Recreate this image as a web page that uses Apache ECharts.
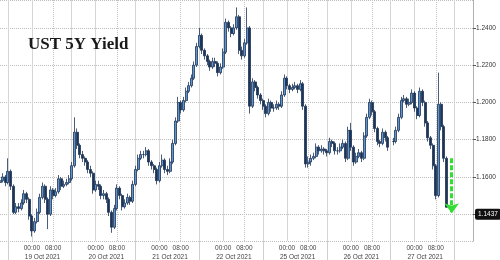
<!DOCTYPE html>
<html><head><meta charset="utf-8">
<script src="https://cdn.jsdelivr.net/npm/echarts@6/dist/echarts.min.js"></script>
<style>html,body{margin:0;padding:0;background:#fff}#c{width:500px;height:260px}</style>
</head><body><div id="c"></div>
<script>
// Trading days shown on the x axis (weekend skipped)
const days = ['18 Oct 2021','19 Oct 2021','20 Oct 2021','21 Oct 2021','22 Oct 2021','25 Oct 2021','26 Oct 2021','27 Oct 2021'];
const firstHour = 12;   // chart starts 18 Oct 12:00
const lastHour = 22;    // chart ends 27 Oct 22:00
const hourTicks = [0, 8];      // labelled hours
const dateLabelHour = 4;       // where the date label sits
const sessionBreakHour = 15;   // solid session separators

// Hourly OHLC (open = previous close)
const firstOpen = 1.157;
const closes = [
1.158,1.160,1.157,1.163,1.155,1.141,1.144,1.143,1.146,1.151,
1.148,1.139,1.131,1.136,1.141,1.149,1.155,1.148,1.140,1.153,
1.150,1.152,1.159,1.155,1.156,1.157,1.159,1.166,1.184,1.177,
1.172,1.170,1.168,1.164,1.162,1.153,1.156,1.155,1.150,1.151,
1.148,1.141,1.133,1.143,1.154,1.150,1.144,1.146,1.149,1.147,
1.156,1.164,1.170,1.172,1.172,1.174,1.168,1.166,1.164,1.158,
1.166,1.169,1.164,1.163,1.168,1.178,1.190,1.200,1.196,1.201,
1.206,1.209,1.213,1.220,1.230,1.236,1.228,1.225,1.222,1.219,
1.222,1.221,1.216,1.219,1.227,1.243,1.240,1.237,1.240,1.246,
1.228,1.225,1.232,1.240,1.198,1.211,1.208,1.204,1.201,1.198,
1.194,1.200,1.197,1.197,1.199,1.198,1.204,1.213,1.209,1.207,
1.208,1.209,1.207,1.210,1.198,1.167,1.168,1.170,1.171,1.176,
1.174,1.175,1.174,1.173,1.179,1.178,1.174,1.174,1.176,1.178,
1.170,1.185,1.176,1.168,1.171,1.173,1.170,1.182,1.192,1.200,
1.195,1.186,1.179,1.178,1.184,1.181,1.176,null,1.179,1.185,
1.192,1.201,1.202,1.199,1.200,1.205,1.197,1.193,1.206,1.200,
1.189,1.181,1.177,1.166,1.150,1.199,1.187,1.170,1.1437];
const highs = [
1.160,1.162,1.161,1.170,1.164,1.156,1.146,1.146,1.148,1.153,
1.152,1.149,1.140,1.138,1.143,1.151,1.157,1.156,1.149,1.155,
1.154,1.154,1.161,1.160,1.158,1.159,1.161,1.168,1.192,1.186,
1.178,1.174,1.171,1.169,1.166,1.163,1.158,1.158,1.156,1.153,
1.152,1.149,1.142,1.145,1.156,1.155,1.151,1.148,1.151,1.150,
1.158,1.166,1.172,1.174,1.174,1.176,1.175,1.169,1.167,1.165,
1.168,1.172,1.170,1.166,1.170,1.180,1.192,1.203,1.201,1.203,
1.208,1.211,1.215,1.222,1.232,1.240,1.237,1.229,1.226,1.223,
1.224,1.224,1.222,1.221,1.229,1.245,1.244,1.241,1.242,1.251,
1.247,1.230,1.234,1.251,1.241,1.213,1.212,1.209,1.205,1.202,
1.199,1.202,1.201,1.199,1.201,1.200,1.206,1.215,1.214,1.210,
1.210,1.211,1.210,1.212,1.211,1.199,1.171,1.172,1.173,1.178,
1.177,1.177,1.176,1.175,1.181,1.180,1.179,1.176,1.178,1.180,
1.179,1.187,1.189,1.177,1.173,1.175,1.174,1.184,1.194,1.202,
1.201,1.196,1.187,1.180,1.186,1.185,1.182,null,1.181,1.187,
1.194,1.203,1.204,1.203,1.202,1.207,1.206,1.198,1.208,1.207,
1.201,1.190,1.182,1.178,1.167,1.216,1.200,1.188,1.171];
const lows = [
1.155,1.157,1.155,1.156,1.153,1.140,1.140,1.141,1.142,1.145,
1.146,1.137,1.128,1.130,1.135,1.140,1.148,1.146,1.132,1.139,
1.148,1.149,1.151,1.153,1.154,1.155,1.156,1.158,1.165,1.175,
1.170,1.168,1.166,1.162,1.160,1.151,1.152,1.153,1.148,1.148,
1.146,1.139,1.130,1.132,1.142,1.148,1.142,1.143,1.145,1.145,
1.146,1.155,1.163,1.169,1.170,1.171,1.166,1.164,1.162,1.156,
1.157,1.165,1.162,1.161,1.162,1.167,1.177,1.189,1.194,1.195,
1.200,1.205,1.208,1.212,1.219,1.229,1.226,1.223,1.220,1.217,
1.218,1.219,1.214,1.215,1.218,1.226,1.238,1.235,1.236,1.239,
1.226,1.223,1.224,1.231,1.194,1.197,1.206,1.202,1.199,1.196,
1.192,1.193,1.195,1.195,1.196,1.196,1.197,1.203,1.207,1.205,
1.206,1.207,1.205,1.206,1.196,1.165,1.165,1.166,1.169,1.170,
1.172,1.173,1.172,1.171,1.172,1.176,1.172,1.172,1.173,1.175,
1.168,1.169,1.174,1.166,1.167,1.170,1.168,1.169,1.181,1.191,
1.193,1.184,1.177,1.176,1.177,1.179,1.174,null,1.177,1.178,
1.184,1.191,1.200,1.197,1.198,1.199,1.195,1.191,1.192,1.198,
1.187,1.179,1.175,1.164,1.148,1.149,1.185,1.168,1.1437];

// Green arrow annotation (from / to yield, at hour slot)
const arrowSlot = 170;
const arrowFrom = 1.170;
const arrowTo = 1.1405;

const yTicks = { min: 1.1256, max: 1.2550, step: 0.02 };

// ---- build categories ----
const cats = [], hourOf = [];
days.forEach((d, k) => {
  const h0 = k === 0 ? firstHour : 0;
  const h1 = k === days.length - 1 ? lastHour : 23;
  for (let h = h0; h <= h1; h++) {
    cats.push(d + ' ' + String(h).padStart(2, '0') + ':00');
    hourOf.push(h);
  }
});
const ohlc = cats.map((c, i) => {
  const cl = closes[i];
  if (cl == null) return '-';
  const prev = i === 0 ? firstOpen : closes[i - 1];
  const op = prev == null ? cl : prev;
  return [op, cl, lows[i], highs[i]];
});
const last = closes[closes.length - 1];

const chart = echarts.init(document.getElementById('c'), null, { renderer: 'canvas' });
const fam = '"Liberation Sans", Arial, sans-serif';
chart.setOption({
  animation: false,
  backgroundColor: '#ffffff',
  grid: { left: 0, right: 27, top: 0, bottom: 19, containLabel: false, outerBoundsMode: 'none' },
  graphic: [{
    type: 'text', left: 28, top: 36, z: 10,
    style: { text: 'UST 5Y Yield', font: 'bold 17px "Liberation Serif", "Times New Roman", serif', fill: '#1a1a1a' }
  }],
  xAxis: [{
    type: 'category', data: cats, boundaryGap: false, position: 'bottom',
    axisLine: { show: false },
    axisTick: { show: true, length: 19, interval: i => hourOf[i] === sessionBreakHour, lineStyle: { color: '#cfcfcf' } },
    axisLabel: { interval: i => hourTicks.includes(hourOf[i]), formatter: v => v.slice(-5),
      fontSize: 6.5, color: '#444', margin: 4, fontFamily: fam },
    splitLine: { show: true, interval: i => hourOf[i] === 0 || hourOf[i] === sessionBreakHour,
      lineStyle: { color: '#d6d6d6', width: 1 } }
  }, {
    type: 'category', data: cats, boundaryGap: false, position: 'bottom',
    axisLine: { show: false }, axisTick: { show: false },
    axisLabel: { interval: i => hourOf[i] === dateLabelHour, formatter: v => v.slice(0, -6),
      fontSize: 6.5, color: '#444', margin: 13, fontFamily: fam },
    splitLine: { show: true, interval: i => hourOf[i] === 8,
      lineStyle: { color: '#c4c4c4', width: 1, type: 'dotted' } }
  }],
  yAxis: {
    type: 'value', position: 'right', min: yTicks.min, max: yTicks.max,
    minInterval: yTicks.step, maxInterval: yTicks.step, splitNumber: 6,
    axisLine: { show: true, lineStyle: { color: '#b0b0b0' } },
    axisTick: { show: true, length: 3, lineStyle: { color: '#555' } },
    axisLabel: { showMinLabel: false, showMaxLabel: false, formatter: v => v.toFixed(4),
      fontSize: 6.5, color: '#333', margin: 3, fontFamily: fam },
    splitLine: { show: true, lineStyle: { color: '#bdbdbd', type: 'dotted', width: 1 } }
  },
  series: [{
    type: 'candlestick', data: ohlc, barWidth: 2.5,
    itemStyle: { color: '#5f95cf', color0: '#1d3456', borderColor: '#1d3456', borderColor0: '#1d3456', borderWidth: 0.8 },
    markLine: {
      silent: true, symbol: ['none', 'none'], animation: false,
      data: [
        [ { coord: [cats[arrowSlot], arrowFrom], symbol: 'none',
            lineStyle: { color: '#33dd33', width: 3, type: [5, 2] }, label: { show: false } },
          { coord: [cats[arrowSlot], arrowTo], symbol: 'arrow', symbolSize: [11, 10] } ]
      ]
    }
  }, {
    type: 'line', data: [], silent: true,
    markLine: {
      silent: true, symbol: ['none', 'none'], animation: false,
      lineStyle: { color: 'rgba(0,0,0,0)', width: 0 },
      label: { show: true, position: 'end', formatter: last.toFixed(4), backgroundColor: '#111', color: '#fff',
        fontSize: 6.5, fontFamily: fam, padding: [2, 3, 2, 3], borderRadius: 2, distance: 2 },
      data: [ { yAxis: last } ]
    }
  }]
});
</script></body></html>
